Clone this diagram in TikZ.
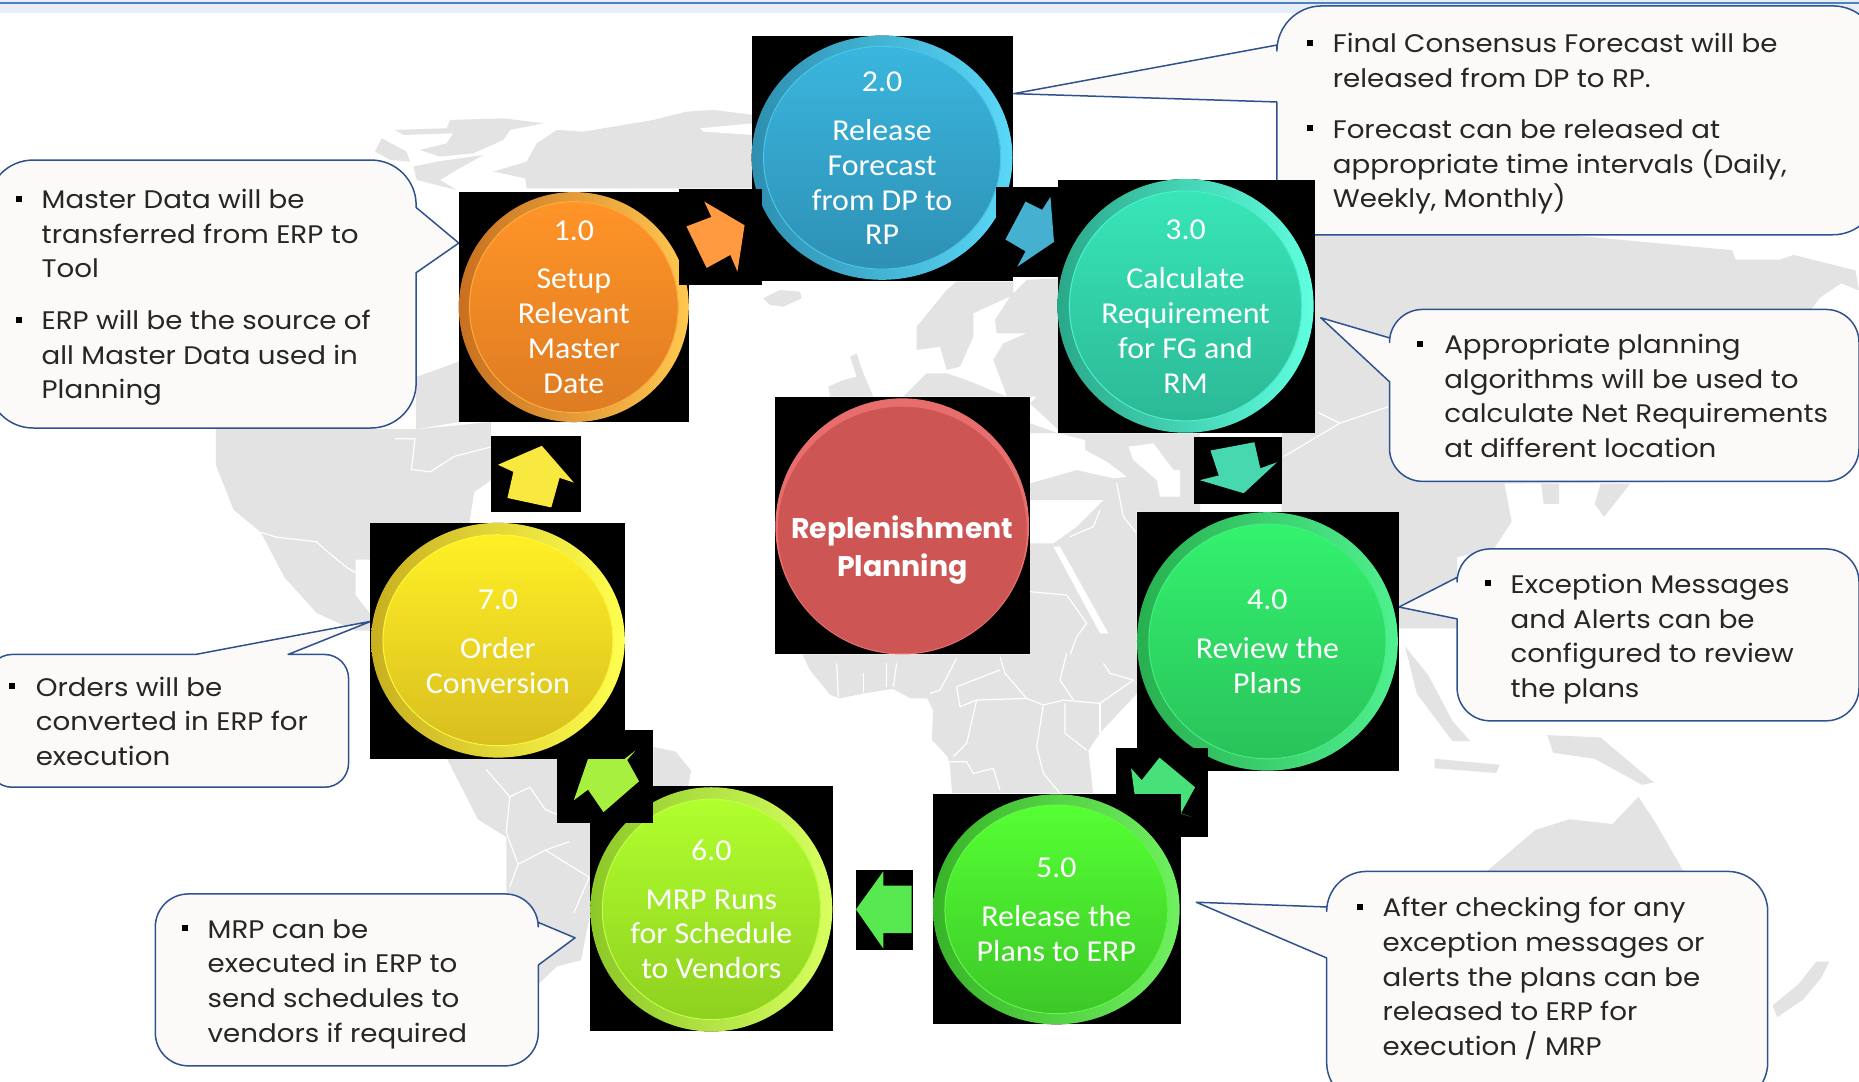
\documentclass[tikz,border=0pt]{standalone}
\usepackage{fontspec}
\setmainfont{Poppins}
\newfontfamily\calloutfont[FakeStretch=1.09]{Poppins}
\newfontfamily\stepfont[FakeStretch=1.05]{Carlito}
\usepackage{tikz}
\definecolor{calloutfill}{HTML}{FBFAF8}
\definecolor{calloutedge}{HTML}{2F528F}
\definecolor{mapgrey}{HTML}{E3E3E3}
\definecolor{onedark}{HTML}{C87020}\definecolor{onetop}{HTML}{FF9428}\definecolor{onelow}{HTML}{DE7C22}\definecolor{onelight}{HTML}{FFC850}
\definecolor{twodark}{HTML}{2E8FB0}\definecolor{twotop}{HTML}{3AB6DE}\definecolor{twolow}{HTML}{2E90B4}\definecolor{twolight}{HTML}{5AD8F8}
\definecolor{threedark}{HTML}{2AA98A}\definecolor{threetop}{HTML}{38E6B8}\definecolor{threelow}{HTML}{2CB896}\definecolor{threelight}{HTML}{60FFE0}
\definecolor{fourdark}{HTML}{28B050}\definecolor{fourtop}{HTML}{33F26E}\definecolor{fourlow}{HTML}{2AC25A}\definecolor{fourlight}{HTML}{50F090}
\definecolor{fivedark}{HTML}{38B428}\definecolor{fivetop}{HTML}{55FF33}\definecolor{fivelow}{HTML}{3CC828}\definecolor{fivelight}{HTML}{70F060}
\definecolor{sixdark}{HTML}{8CC828}\definecolor{sixtop}{HTML}{B0FF2E}\definecolor{sixlow}{HTML}{8FD020}\definecolor{sixlight}{HTML}{D8FF60}
\definecolor{sevendark}{HTML}{C8B020}\definecolor{seventop}{HTML}{FFF025}\definecolor{sevenlow}{HTML}{D9BE20}\definecolor{sevenlight}{HTML}{FFFF50}

\begin{document}
\begin{tikzpicture}[x=1.1856bp,y=-1.1856bp,
	landmass/.style={fill=mapgrey},
	seagap/.style={fill=white},
	border/.style={draw=white,line width=1.2bp,line join=round},
	calloutshape/.style={draw=calloutedge,fill=calloutfill,line width=1.5bp,line join=round,line cap=round},
	calloutnote/.style={anchor=west,align=left,inner sep=0pt,font=\calloutfont\fontsize{25.5}{34.8}\selectfont,text=black!85},
	bulletmark/.style={fill=black,inner sep=0pt,minimum size=6bp},
	steprim/.style={left color=#1dark,middle color=#1top,right color=#1light},
	stepface/.style={top color=#1top,bottom color=#1low,draw=#1light!50!#1top,line width=1bp},
	steplabel/.style={align=center,text=white,inner sep=0pt,font=\stepfont\fontsize{30.5}{35}\selectfont}]
	\useasboundingbox (0,0) rectangle (1568,911.8);
	\clip (0,0) rectangle (1568,911.8);

	% top band
	\fill[fill={rgb,255:red,232;green,238;blue,247}] (0,0) rectangle (1568,11);
	\draw[color={rgb,255:red,79;green,129;blue,189},line width=2.4bp] (0,2.5) -- (1568,2.5);

	% arctic
	\begin{scope}[shift={(312.1,84.3)},scale=0.2812]
		\fill[landmass] (470,265) -- (465,235) -- (370,215) -- (470,185) -- (500,130) -- (560,90) -- (640,95) -- (760,75) -- (850,60) -- (950,35) -- (1030,30) -- (1150,45) -- (1150,265) -- cycle;
		\fill[seagap] (990,85) -- (1150,70) -- (1150,105) -- (1000,95) -- cycle;
		\fill[landmass] (15,155) -- (35,115) -- (110,155) -- (120,185) -- (60,180) -- cycle;
		\fill[landmass] (75,90) -- (230,85) -- (240,60) -- (400,55) -- (520,70) -- (420,90) -- (400,120) -- (310,160) -- (210,170) -- (150,150) -- (230,130) -- (250,100) -- (100,105) -- cycle;
		\fill[landmass] (130,200) -- (200,185) -- (340,165) -- (260,210) -- (210,240) -- (260,270) -- (140,240) -- cycle;
	\end{scope}

	% north america
	\fill[landmass] (182,362) -- (182,392) -- (197,430) -- (220,449) -- (240,487) -- (267,517) -- (300,532) -- (320,532) -- (320,441) -- (396,441) -- (400,415) -- (414,405) -- (414,356) -- (351,362) -- cycle;
	\fill[landmass] (351,318) -- (387,305) -- (387,356) -- (351,362) -- cycle;
	\fill[seagap] (300,472) -- (312,472) -- (312,517) -- (300,502) -- cycle;
	\draw[border] (333,370) -- (350,370) -- (347,396) -- (363,398) -- (383,385) -- (414,377);
	\draw[border] (220,449) -- (233,453) -- (267,457) -- (277,466) -- (293,479) -- (300,483);

	% south america
	\fill[landmass] (377,640) -- (403,691) -- (427,706) -- (427,751) -- (440,800) -- (454,830) -- (470,815) -- (490,810) -- (500,760) -- (500,660) -- (470,640) -- cycle;
	\fill[landmass] (551,630) -- (570,634) -- (583,650) -- (580,665) -- (551,665) -- cycle;
	\draw[border] (410,649) -- (430,672) -- (447,664) -- (460,683) -- (480,691);
	\draw[border] (430,672) -- (427,702) -- (437,729) -- (460,717) -- (480,710);
	\draw[border] (437,729) -- (430,748);
	\draw[border] (460,717) -- (497,740) -- (484,770);

	% europe and the middle east
	\begin{scope}[shift={(641,227.7)},scale=0.2812]
		\fill[landmass] (10,85) -- (60,60) -- (120,65) -- (125,85) -- (70,110) -- (30,105) -- cycle;
		\fill[landmass] (470,170) -- (560,60) -- (590,35) -- (760,35) -- (760,75) -- (640,130) -- (640,200) -- (600,290) -- (560,300) -- (540,230) -- (470,240) -- cycle;
		\fill[landmass] (705,150) -- (750,80) -- (800,30) -- (895,25) -- (895,480) -- (810,400) -- (830,380) -- (740,380) -- (730,350) -- (700,270) -- (730,220) -- (800,190) -- (710,190) -- cycle;
		\fill[landmass] (270,260) -- (290,250) -- (310,310) -- (340,380) -- (210,380) -- (205,350) -- (250,330) -- (290,320) -- cycle;
		\fill[landmass] (430,380) -- (500,310) -- (560,310) -- (620,330) -- (740,380) -- cycle;
		\fill[landmass] (810,460) -- (895,490) -- (1320,490) -- (1320,730) -- (1130,725) -- (1130,1155) -- (810,1155) -- cycle;
		\fill[seagap] (810,490) -- (895,490) -- (975,510) -- (975,540) -- (1040,575) -- (1100,620) -- (1060,625) -- (950,600) -- (810,640) -- cycle;
		\fill[seagap] (810,690) -- (1030,690) -- (950,770) -- (880,820) -- (810,820) -- cycle;
		\fill[seagap] (880,830) -- (900,830) -- (1045,1090) -- (1020,1090) -- cycle;
		\fill[seagap] (1105,530) -- (1180,520) -- (1240,600) -- (1260,600) -- (1260,680) -- (1200,680) -- (1190,630) -- (1120,570) -- cycle;
		\draw[border] (1070,640) -- (1090,740) -- (1130,790);
		\draw[border] (1020,720) -- (1000,770) -- (930,800);
		\draw[border] (810,965) -- (920,975) -- (980,1060) -- (950,1100) -- (930,1155);
	\end{scope}

	% africa
	\fill[landmass] (677,552) -- (683,565) -- (700,586) -- (708,589) -- (728,585) -- (753,581) -- (768,589) -- (782,589) -- (787,599) -- (786,624) -- (799,638) -- (801,644) -- (803,669) -- (922,669) -- (918,633) -- (928,618) -- (959,585) -- (959,552) -- cycle;
	\begin{scope}[shift={(641,531.4)},scale=0.2812]
		\draw[border] (720,80) -- (735,130) -- (800,205) -- (850,225) -- (830,350) -- (850,430) -- (900,490);
		\draw[border] (590,170) -- (600,230) -- (650,210) -- (800,205);
		\draw[border] (650,210) -- (620,340) -- (580,380);
		\draw[border] (850,225) -- (910,210) -- (1020,220) -- (1120,150);
		\draw[border] (915,220) -- (915,310) -- (980,360);
		\draw[border] (1020,220) -- (1020,310);
		\draw[border] (900,150) -- (920,70);
		\draw[border] (1030,100) -- (1050,130) -- (1120,150);
		\draw[border] (900,150) -- (940,210);
		\draw[border] (560,395) -- (620,395) -- (640,430) -- (700,415) -- (720,480);
		\draw[border] (230,100) -- (235,200);
		\draw[border] (310,130) -- (310,190);
		\draw[border] (380,100) -- (380,170);
		\draw[border] (410,100) -- (400,170);
		\draw[border] (590,85) -- (540,180) -- (510,190);
		\draw[border] (590,170) -- (720,120);
	\end{scope}

	% asia, australia
	\fill[landmass] (1100,198) -- (1321,198) -- (1461,211) -- (1464,219) -- (1501,219) -- (1513,215) -- (1565,228) -- (1568,245) -- (1553,239) -- (1535,251) -- (1500,300) -- (1450,406) -- (1269,408) -- (1275,440) -- (1260,463) -- (1229,470) -- (1229,530) -- (1180,530) -- (1180,432) -- (1081,432) -- (1081,365) -- (1100,365) -- cycle;
	\fill[landmass] (1300,408) -- (1315,408) -- (1315,425) -- (1302,425) -- cycle;
	\fill[landmass] (1350,408) -- (1375,408) -- (1353,436) -- (1345,425) -- cycle;
	\draw[border] (1112,348) -- (1130,357) -- (1171,343);
	\draw[border] (1130,357) -- (1083,385);
	\fill[landmass] (1185,545) -- (1205,570) -- (1225,608) -- (1240,625) -- (1225,625) -- (1195,585) -- cycle;
	\fill[landmass] (1210,640) -- (1265,645) -- (1262,652) -- (1210,648) -- cycle;
	\fill[landmass] (1305,620) -- (1350,622) -- (1395,660) -- (1385,662) -- (1345,640) -- (1310,635) -- cycle;
	\fill[landmass] (1254,735) -- (1295,700) -- (1324,691) -- (1360,695) -- (1382,672) -- (1397,695) -- (1420,735) -- cycle;
	\fill[landmass] (1532,811) -- (1543,811) -- (1536,825) -- (1521,843) -- (1499,858) -- (1495,848) -- (1517,830) -- cycle;

	% callouts
	\draw[calloutshape] (351,175) -- (387,205) -- (351,230) [rounded corners=45bp] -- (351,361) -- (-10,361) -- (-10,135) -- (351,135) -- (351,175);
	\draw[calloutshape] (1077,38) -- (855,79) -- (1077,86) -- (1077,198) [rounded corners=45bp] -- (1584,198) -- (1584,5) -- (1077,5) -- (1077,38);
	\draw[calloutshape] (1172,285) -- (1114,268) -- (1172,322) [rounded corners=33bp] -- (1172,406) -- (1568,406) -- (1568,261) -- (1172,261) -- (1172,285);
	\draw[calloutshape] (1229,487) -- (1180,512) -- (1229,522) [rounded corners=33bp] -- (1229,608) -- (1568,608) -- (1568,463) -- (1229,463) -- (1229,487);
	\draw[calloutshape] (165,552) -- (313,524) -- (243,552) [rounded corners=24bp] -- (294,552) -- (294,664) -- (-10,664) -- (-10,552) -- (165,552);
	\draw[calloutshape] (454,778) -- (485,791) -- (454,814) [rounded corners=33bp] -- (454,899) -- (131,899) -- (131,754) -- (454,754) -- (454,778);
	\draw[calloutshape] (1119,765) -- (1009,761) -- (1119,808) [rounded corners=40bp] -- (1119,930) -- (1491,930) -- (1491,735) -- (1119,735) -- (1119,765);

	\node[bulletmark] (bulletonea) at (16,168) {};
	\node[calloutnote] (noteonea) at (35,197) {Master Data will be\\transferred from ERP to\\Tool};
	\node[bulletmark] (bulletoneb) at (16,270) {};
	\node[calloutnote] (noteoneb) at (35,302) {ERP will be the source of\\all Master Data used in\\Planning};
	\node[bulletmark] (bullettwoa) at (1105,36) {};
	\node[calloutnote] (notetwoa) at (1124,51) {Final Consensus Forecast will be\\released from DP to RP.};
	\node[bulletmark] (bullettwob) at (1105,108) {};
	\node[calloutnote] (notetwob) at (1124,141) {Forecast can be released at\\appropriate time intervals (Daily,\\Weekly, Monthly)};
	\node[bulletmark] (bulletthree) at (1198,290) {};
	\node[calloutnote] (notethree) at (1218,334) {Appropriate planning\\algorithms will be used to\\calculate Net Requirements\\at different location};
	\node[bulletmark] (bulletfour) at (1255,492) {};
	\node[calloutnote] (notefour) at (1274,539) {Exception Messages\\and Alerts can be\\configured to review\\the plans};
	\node[bulletmark] (bulletfive) at (1147,765) {};
	\node[calloutnote] (notefive) at (1166,825.5) {After checking for any\\exception messages or\\alerts the plans can be\\released to ERP for\\execution / MRP};
	\node[bulletmark] (bulletsix) at (156,783) {};
	\node[calloutnote] (notesix) at (175,830) {MRP can be\\executed in ERP to\\send schedules to\\vendors if required};
	\node[bulletmark] (bulletseven) at (10,579) {};
	\node[calloutnote] (noteseven) at (30,608.5) {Orders will be\\converted in ERP for\\execution};

	% black tiles
	\fill[black] (387,162) rectangle (581,356);
	\fill[black] (634,30) rectangle (854,237);
	\fill[black] (892,152) rectangle (1109,365);
	\fill[black] (959,432) rectangle (1180,650);
	\fill[black] (498,663) rectangle (703,870);
	\fill[black] (654,335) rectangle (869,552);

	% step 1.0
	\fill[steprim=one] (484,259) circle [x radius=97,y radius=97];
	\fill[stepface=one] (484,259) circle [x radius=88,y radius=89];
	\node[steplabel] (stepone) at (484,259) {1.0\\[14bp]Setup\\Relevant\\Master\\Date};

	% step 2.0
	\fill[steprim=two] (744,133) circle [x radius=110,y radius=103];
	\fill[stepface=two] (744,133) circle [x radius=100,y radius=94];
	\node[steplabel] (steptwo) at (744,133.5) {2.0\\[14bp]Release\\Forecast\\from DP to\\RP};

	% step 3.0
	\fill[steprim=three] (1000,258) circle [x radius=108,y radius=107];
	\fill[stepface=three] (1000,258) circle [x radius=98,y radius=97];
	\node[steplabel] (stepthree) at (1000,258.5) {3.0\\[14bp]Calculate\\Requirement\\for FG and\\RM};

	% step 4.0
	\fill[steprim=four] (1069,541) circle [x radius=110,y radius=109];
	\fill[stepface=four] (1069,541) circle [x radius=100,y radius=99];
	\node[steplabel] (stepfour) at (1069,541.5) {4.0\\[14bp]Review the\\Plans};

	% step 6.0
	\fill[steprim=six] (600,767) circle [x radius=102,y radius=103];
	\fill[stepface=six] (600,767) circle [x radius=92,y radius=93];
	\node[steplabel] (stepsix) at (600,767) {6.0\\[14bp]MRP Runs\\for Schedule\\to Vendors};

	% centre
	\fill[fill={rgb,255:red,232;green,110;blue,110}] (761,444) circle [x radius=107,y radius=108];
	\fill[fill={rgb,255:red,205;green,86;blue,84}] (761,447) circle [x radius=105,y radius=104];
	\node[inner sep=0pt,align=center,text=white,font=\bfseries\fontsize{28.5}{38.5}\selectfont] (centre) at (761,464) {Replenishment\\Planning};

	% arrows over the tiles
	\fill[black] (573,159) rectangle (643,240);
	\fill[color={rgb,255:red,255;green,154;blue,64}] (579,191) -- (600,183) -- (594,170) -- (628,190) -- (622,229) -- (616,215) -- (596,226) -- cycle;
	\fill[black] (840,158) rectangle (892,234);
	\fill[color={rgb,255:red,70;green,176;blue,208}] (865,170) -- (879,177) -- (886,166) -- (889,204) -- (858,225) -- (865,212) -- (848,202) -- cycle;
	\fill[black] (1007,369) rectangle (1081,425);
	\fill[color={rgb,255:red,72;green,216;blue,176}] (1021,380) -- (1058,373) -- (1063,395) -- (1077,390) -- (1049,416) -- (1012,405) -- (1028,401) -- cycle;
	\fill[black] (941,631) rectangle (1019,706);
	\fill[color={rgb,255:red,72;green,224;blue,120}] (954,648) -- (963,658) -- (978,639) -- (1008,664) -- (996,686) -- (1005,689) -- (975,680) -- (957,670) -- cycle;
	\fill[black] (722,734) rectangle (770,801);
	\fill[color={rgb,255:red,88;green,232;blue,80}] (769,747) -- (745,747) -- (745,735) -- (722,767) -- (745,800) -- (745,787) -- (769,787) -- cycle;
	\fill[black] (470,616) rectangle (551,694);
	\fill[color={rgb,255:red,168;green,240;blue,64}] (484,675) -- (496,640) -- (527,640) -- (536,633) -- (529,641) -- (539,659) -- (509,685) -- (496,666) -- cycle;
	\fill[black] (414,368) rectangle (490,432);
	\fill[color={rgb,255:red,248;green,232;blue,64}] (420,392) -- (457,376) -- (484,407) -- (472,403) -- (465,428) -- (428,420) -- (433,398) -- cycle;

	% step 5.0 and 7.0 lie over their arrows
	\fill[black] (787,670) rectangle (996,864);
	\fill[steprim=five] (891,767) circle [x radius=104,y radius=97];
	\fill[stepface=five] (891,767) circle [x radius=94,y radius=88];
	\node[steplabel] (stepfive) at (891,767.5) {5.0\\[14bp]Release the\\Plans to ERP};
	\fill[black] (312,441) rectangle (527,640);
	\fill[steprim=seven] (420,540) circle [x radius=107,y radius=99];
	\fill[stepface=seven] (420,540) circle [x radius=97,y radius=89];
	\node[steplabel] (stepseven) at (420,541.5) {7.0\\[14bp]Order\\Conversion};
\end{tikzpicture}
\end{document}
